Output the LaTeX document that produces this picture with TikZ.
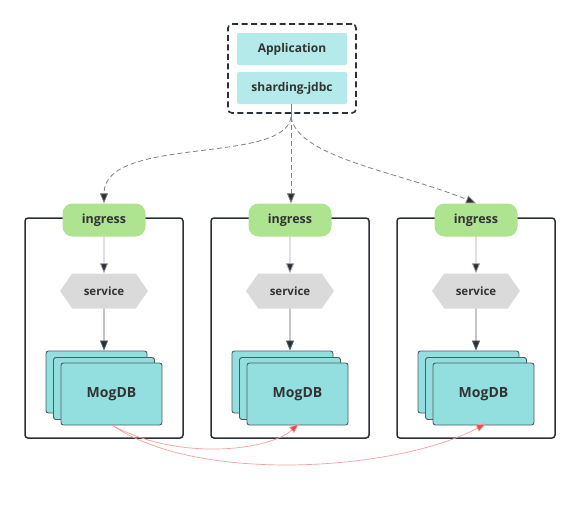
\documentclass[tikz,border=0pt]{standalone}
\usepackage{fontspec}
\setmainfont{Open Sans}
\usepackage{tikz}
\usetikzlibrary{arrows.meta, shapes.symbols, calc}
\definecolor{appcyan}{HTML}{B4EAEA}
\definecolor{dbcyan}{HTML}{93DFE0}
\definecolor{dbedge}{HTML}{4E5B60}
\definecolor{ingreen}{HTML}{AEE38F}
\definecolor{svcgray}{HTML}{DADADA}
\definecolor{framedark}{HTML}{2B3036}
\definecolor{txtdark}{HTML}{333333}
\definecolor{redline}{HTML}{F4A19E}
\definecolor{redtip}{HTML}{E5504B}

\tikzset{
	appbox/.style={fill=appcyan, rounded corners=2pt, minimum width=110pt, minimum height=32pt, font=\fontsize{12}{14}\selectfont\bfseries, text=txtdark},
	podframe/.style={draw=framedark, line width=1.5pt, rounded corners=3pt, minimum width=158pt, minimum height=220pt},
	ingbox/.style={fill=ingreen, rounded corners=10pt, minimum width=83pt, minimum height=33pt, font=\fontsize{12.5}{14}\selectfont\bfseries, text=txtdark},
	svcbox/.style={signal, signal to=east and west, signal pointer angle=110, fill=svcgray, minimum width=88pt, minimum height=35pt, inner sep=0pt, font=\fontsize{11.5}{13}\selectfont\bfseries, text=txtdark},
	dbbox/.style={draw=dbedge, fill=dbcyan, line width=0.9pt, rounded corners=2.5pt, minimum width=101pt, minimum height=62pt, font=\fontsize{14}{16}\selectfont\bfseries, text=txtdark},
	tip/.style={-{Triangle[length=10pt, width=8pt, fill=framedark]}, line width=0.8pt},
}

\begin{document}
\begin{tikzpicture}[x=1pt, y=-1pt]
	\useasboundingbox (0,0) rectangle (580,509);

	% client side
	\node [draw=framedark, line width=1.6pt, dash pattern=on 6pt off 3.5pt, rounded corners=4pt, minimum width=128pt, minimum height=89pt] (client) at (292,68.5) {};
	\node [appbox] (app) at (292,49) {Application};
	\node [appbox] (jdbc) at (292,88) {sharding-jdbc};
	\coordinate (src) at (291,117);
	\draw [gray, line width=0.8pt] (jdbc.south -| src) -- (src);

	% three pods
	\node [podframe] (pod1) at (104,328) {};
	\node [podframe] (pod2) at (290,328) {};
	\node [podframe] (pod3) at (476,328) {};

	\node [ingbox] (ing1) at (104,220) {ingress};
	\node [ingbox] (ing2) at (290,220) {ingress};
	\node [ingbox] (ing3) at (476,220) {ingress};

	\node [svcbox] (svc1) at (104,291) {service};
	\node [svcbox] (svc2) at (290,291) {service};
	\node [svcbox] (svc3) at (476,291) {service};

	\node [dbbox] (db1c) at (96.5,382) {};
	\node [dbbox] (db1b) at (104,388.5) {};
	\node [dbbox] (db1) at (111.5,394) {MogDB};
	\node [dbbox] (db2c) at (282.5,382) {};
	\node [dbbox] (db2b) at (290,388.5) {};
	\node [dbbox] (db2) at (297.5,394) {MogDB};
	\node [dbbox] (db3c) at (468.5,382) {};
	\node [dbbox] (db3b) at (476,388.5) {};
	\node [dbbox] (db3) at (483.5,394) {MogDB};

	% traffic from sharding-jdbc
	\draw [tip, gray, dash pattern=on 5pt off 3pt] (src) .. controls (285,165) and (104,135) .. (ing1.north);
	\draw [tip, gray, dash pattern=on 5pt off 3pt] (src) -- (src |- ing2.north);
	\draw [tip, gray, dash pattern=on 5pt off 3pt] (src) .. controls (298,158) and (400,172) .. (ing3.north);

	\draw [tip, gray!70] (ing1) -- (svc1);
	\draw [tip, gray!70] (ing2) -- (svc2);
	\draw [tip, gray!70] (ing3) -- (svc3);
	\draw [tip, framedark!80] (svc1) -- (svc1 |- db1c.north);
	\draw [tip, framedark!80] (svc2) -- (svc2 |- db2c.north);
	\draw [tip, framedark!80] (svc3) -- (svc3 |- db3c.north);

	% replication
	\coordinate (rep) at ($(db1.south)+(1,0)$);
	\draw [redline, line width=0.7pt, -{Triangle[length=10pt, width=7.5pt, fill=redtip]}] (rep) .. controls (180,462) and (270,450) .. ($(db2.south)+(1.5,-2)$);
	\draw [redline, line width=0.7pt, -{Triangle[length=10pt, width=7.5pt, fill=redtip]}] (rep) .. controls (200,485) and (400,470) .. ($(db3.south)+(2.5,-2)$);
\end{tikzpicture}
\end{document}
